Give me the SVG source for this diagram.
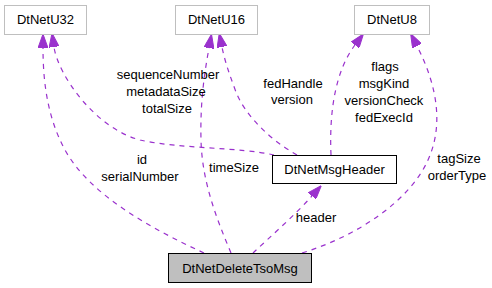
<svg xmlns="http://www.w3.org/2000/svg" width="492" height="288" viewBox="0 0 492 288">
<style>
text{font-family:"Liberation Sans",Arial,sans-serif;font-size:13px;fill:#000;text-anchor:middle}
.ext{fill:#fff;stroke:#bfbfbf;stroke-width:1}
.cls{fill:#fff;stroke:#000;stroke-width:1}
.cur{fill:#bfbfbf;stroke:#000;stroke-width:1}
.e{fill:none;stroke:#9a32cd;stroke-width:1.2;stroke-dasharray:5,5}
</style>
<defs>
<marker id="ah" viewBox="0 0 14 10" refX="0" refY="5" markerWidth="14" markerHeight="10" markerUnits="userSpaceOnUse" orient="auto">
<path d="M0,0 L14,5 L0,10 z" fill="#9a32cd" stroke="#9a32cd"/>
</marker>
</defs>
<g id="edges">
<path class="e" marker-end="url(#ah)" d="M204,253 C150,228 90,195 65,150 C47,117 43,80 43,48"/>
<path class="e" marker-end="url(#ah)" d="M274,155 C240,147 180,149 140,140 C95,128 58,75 54,47"/>
<path class="e" marker-end="url(#ah)" d="M297,155 C270,140 245,115 236,92 C230,76 225,62 222,47"/>
<path class="e" marker-end="url(#ah)" d="M331,155 C329,110 336,70 355,45"/>
<path class="e" marker-end="url(#ah)" d="M302,253 C360,235 410,200 428,160 C444,125 437,85 417,46"/>
<path class="e" marker-end="url(#ah)" d="M231,253 C215,215 202,180 201,140 C200,100 205,70 209,48"/>
<path class="e" marker-end="url(#ah)" d="M253,253 C270,237 295,215 312,196"/>
</g>
<g id="labels">
<text x="168" y="79">sequenceNumber</text>
<text x="166" y="96">metadataSize</text>
<text x="167" y="113">totalSize</text>
<text x="293" y="88">fedHandle</text>
<text x="292" y="104">version</text>
<text x="385" y="71">flags</text>
<text x="384" y="88">msgKind</text>
<text x="384" y="104.5">versionCheck</text>
<text x="384" y="121.5">fedExecId</text>
<text x="142" y="164">id</text>
<text x="140" y="180.5">serialNumber</text>
<text x="234" y="172">timeSize</text>
<text x="316" y="222">header</text>
<text x="459" y="163">tagSize</text>
<text x="457" y="180">orderType</text>
</g>
<g id="DtNetU32"><rect class="ext" x="4.5" y="5.5" width="82" height="29"/><text x="45.5" y="24">DtNetU32</text></g>
<g id="DtNetU16"><rect class="ext" x="175.5" y="5.5" width="82" height="29"/><text x="216.5" y="24">DtNetU16</text></g>
<g id="DtNetU8"><rect class="ext" x="354.5" y="5.5" width="75" height="29"/><text x="392" y="24">DtNetU8</text></g>
<g id="DtNetMsgHeader"><rect class="cls" x="272.5" y="155.5" width="124" height="28"/><text x="334.5" y="174">DtNetMsgHeader</text></g>
<g id="DtNetDeleteTsoMsg"><rect class="cur" x="168.5" y="253.5" width="143" height="29"/><text x="240" y="272.5">DtNetDeleteTsoMsg</text></g>
</svg>
